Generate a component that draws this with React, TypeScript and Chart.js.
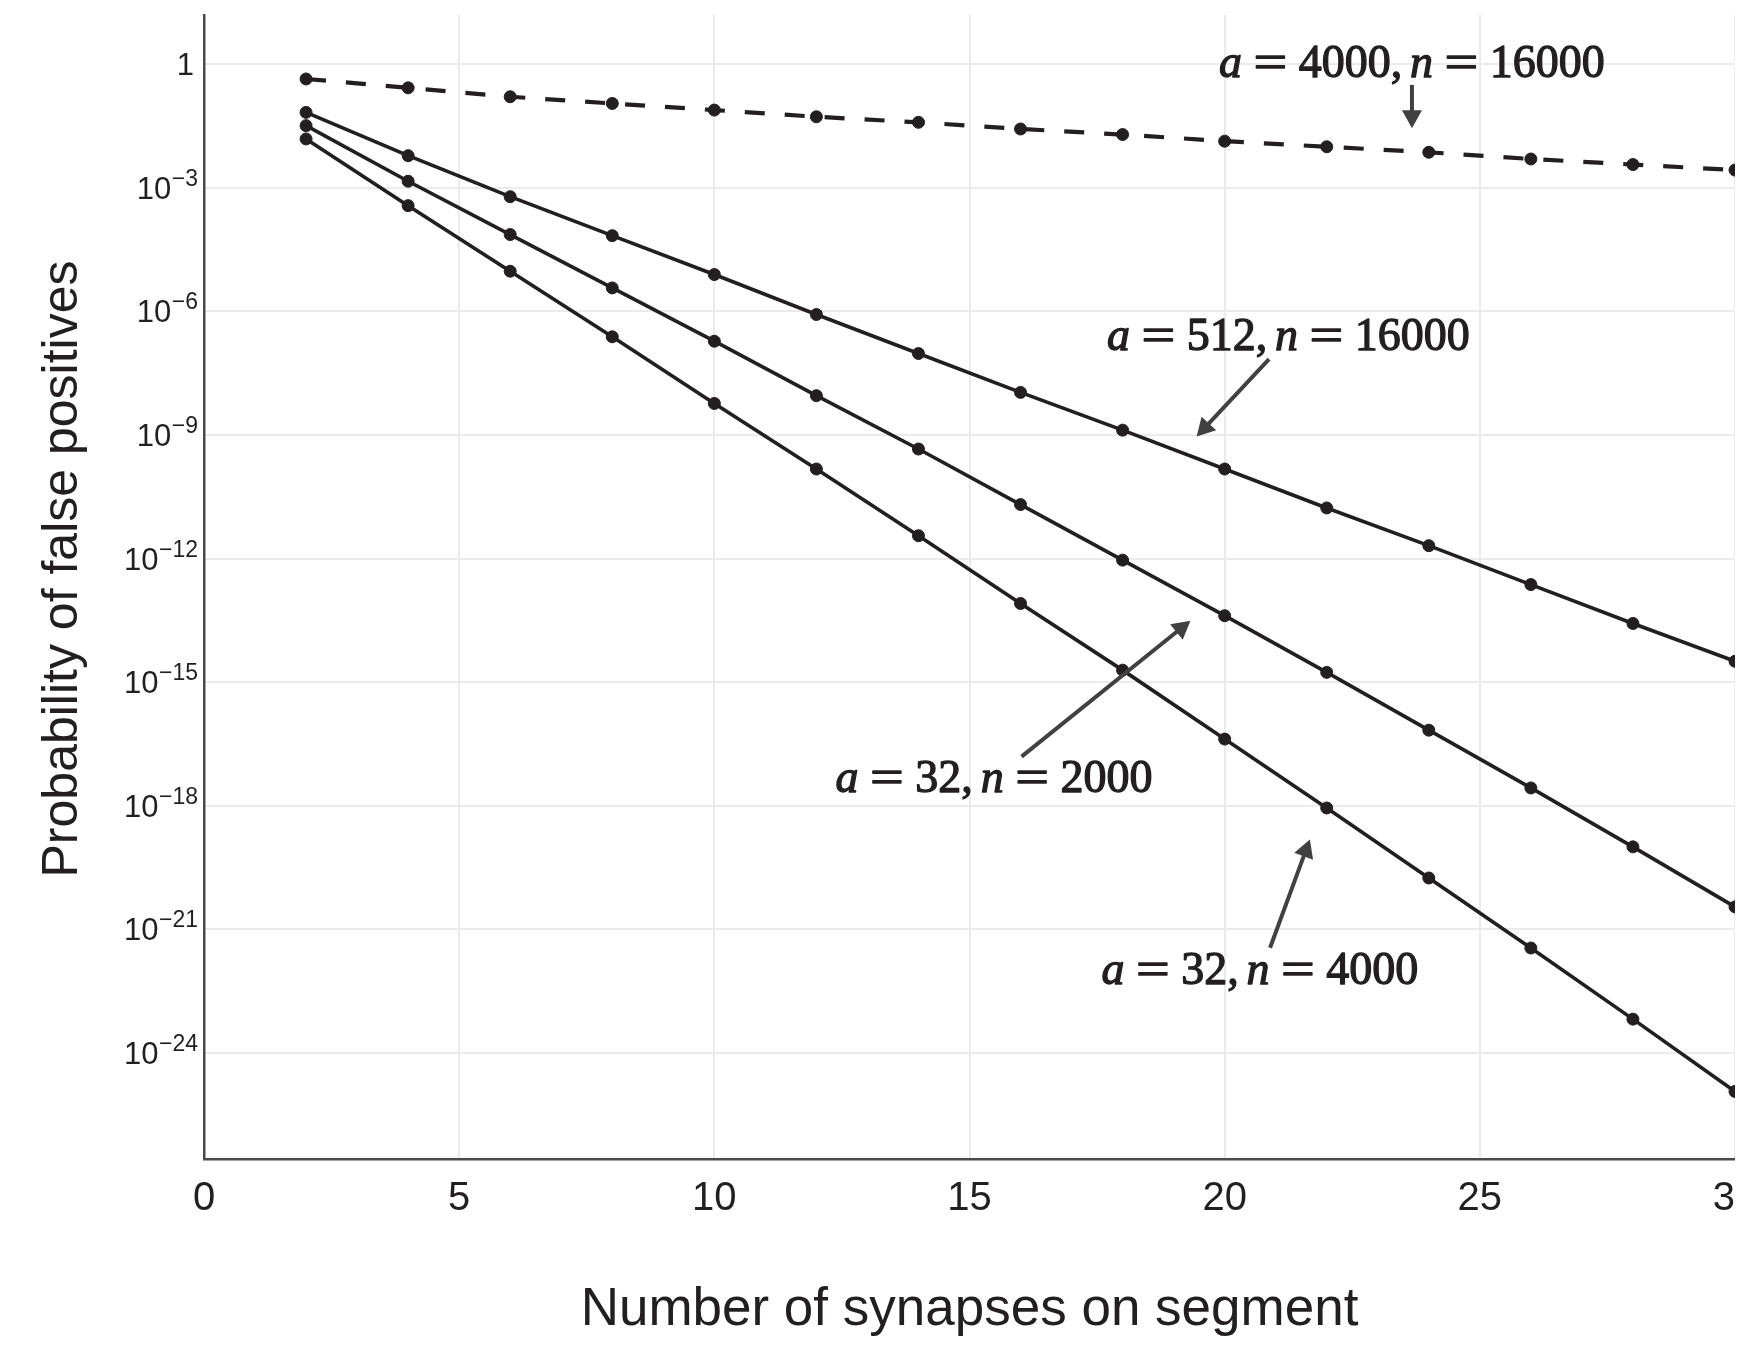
import React, { useEffect, useRef } from 'react';
import { Chart, registerables } from 'chart.js';

Chart.register(...registerables);

// ---------------- data ----------------
const xValues = [2, 4, 6, 8, 10, 12, 14, 16, 18, 20, 22, 24, 26, 28, 30];

// a = 4000, n = 16000 (dashed)
const seriesA4000N16000 = [
  4.4e-1, 2.68e-1, 1.63e-1, 1.12e-1, 7.73e-2, 5.32e-2, 3.9e-2, 2.69e-2,
  1.97e-2, 1.36e-2, 9.95e-3, 7.3e-3, 5.02e-3, 3.68e-3, 2.7e-3,
];
// a = 512, n = 16000
const seriesA512N16000 = [
  6.8e-2, 6.05e-3, 6.1e-4, 6.9e-5, 7.85e-6, 8.4e-7, 9.5e-8, 1.08e-8,
  1.31e-9, 1.49e-10, 1.69e-11, 2.05e-12, 2.33e-13, 2.65e-14, 3.2e-15,
];
// a = 32, n = 2000
const seriesA32N2000 = [
  3.24e-2, 1.45e-3, 7.35e-5, 3.72e-6, 1.89e-7, 9.0e-9, 4.56e-10, 2.04e-11,
  9.14e-13, 4.09e-14, 1.72e-15, 6.8e-17, 2.69e-18, 9.98e-20, 3.48e-21,
];
// a = 32, n = 4000
const seriesA32N4000 = [
  1.54e-2, 3.7e-4, 9.46e-6, 2.42e-7, 5.82e-9, 1.49e-10, 3.58e-12, 8.09e-14,
  1.95e-15, 4.13e-17, 8.77e-19, 1.75e-20, 3.49e-22, 6.55e-24, 1.15e-25,
];

const xTicks = [0, 5, 10, 15, 20, 25, 30];
const yTickExponents = [0, -3, -6, -9, -12, -15, -18, -21, -24];

const xTitle = 'Number of synapses on segment';
const yTitle = 'Probability of false positives';

const annotationA = ['4000', '512', '32', '32'];
const annotationN = ['16000', '16000', '2000', '4000'];
// anchors in data space: x value, log10(y)
const annotationTextAt = [
  [23.67, -0.3],
  [21.25, -6.94],
  [15.48, -17.66],
  [20.69, -22.32],
];
const annotationArrowFrom = [
  [23.67, -0.5],
  [20.87, -7.16],
  [16.02, -16.81],
  [20.89, -21.45],
];
const annotationArrowTo = [
  [23.67, -1.554],
  [19.45, -9.04],
  [19.33, -13.51],
  [21.67, -18.82],
];

// ---------------- styles ----------------
const INK = '#231f20';
const AXIS = '#4a4a4a';
const GRID = '#ebebeb';
const ARROW = '#414141';
const SANS = '"Liberation Sans", Arial, Helvetica, sans-serif';
const SERIF = '"Liberation Serif", "Times New Roman", serif';

const W = 1800;
const H = 1330;

function drawMathLabel(ctx: CanvasRenderingContext2D, a: string, n: string, cx: number, baseY: number) {
  const size = 46;
  const it = `italic ${size}px ${SERIF}`;
  const rm = `${size}px ${SERIF}`;
  const thick = size * 0.25;
  const thin = size * 0.17;
  const pieces: Array<{ t: string; f: string; gapAfter: number; sx?: number }> = [
    { t: 'a', f: it, gapAfter: thick },
    { t: '=', f: rm, gapAfter: thick, sx: 1.3 },
    { t: a, f: rm, gapAfter: 0 },
    { t: ',', f: rm, gapAfter: thin },
    { t: 'n', f: it, gapAfter: thick },
    { t: '=', f: rm, gapAfter: thick, sx: 1.3 },
    { t: n, f: rm, gapAfter: 0 },
  ];
  let total = 0;
  const widths: number[] = [];
  for (const p of pieces) {
    ctx.font = p.f;
    const w = ctx.measureText(p.t).width * (p.sx || 1);
    widths.push(w);
    total += w + p.gapAfter;
  }
  let x = cx - total / 2;
  ctx.fillStyle = INK;
  ctx.strokeStyle = INK;
  ctx.lineWidth = 1.3;
  ctx.lineJoin = 'round';
  ctx.textAlign = 'left';
  ctx.textBaseline = 'alphabetic';
  pieces.forEach((p, i) => {
    ctx.font = p.f;
    ctx.save();
    ctx.translate(x, baseY);
    if (p.sx) ctx.scale(p.sx, 1);
    ctx.fillText(p.t, 0, 0);
    ctx.strokeText(p.t, 0, 0);
    ctx.restore();
    x += widths[i] + p.gapAfter;
  });
}

function drawArrow(ctx: CanvasRenderingContext2D, x1: number, y1: number, x2: number, y2: number) {
  const headLen = 18;
  const headHalf = 10;
  const dx = x2 - x1;
  const dy = y2 - y1;
  const len = Math.hypot(dx, dy);
  const ux = dx / len;
  const uy = dy / len;
  const bx = x2 - ux * headLen;
  const by = y2 - uy * headLen;
  ctx.strokeStyle = ARROW;
  ctx.fillStyle = ARROW;
  ctx.lineWidth = 4;
  ctx.lineCap = 'butt';
  ctx.beginPath();
  ctx.moveTo(x1, y1);
  ctx.lineTo(bx + ux * 2, by + uy * 2);
  ctx.stroke();
  ctx.beginPath();
  ctx.moveTo(x2, y2);
  ctx.lineTo(bx - uy * headHalf, by + ux * headHalf);
  ctx.lineTo(bx + uy * headHalf, by - ux * headHalf);
  ctx.closePath();
  ctx.fill();
}

const customPlugin = {
  id: 'customDecor',
  afterDraw(chart: any) {
    const ctx: CanvasRenderingContext2D = chart.ctx;
    const xs = chart.scales.x;
    const ys = chart.scales.y;
    const area = chart.chartArea;
    ctx.save();

    // y tick labels with superscripts
    ctx.fillStyle = INK;
    ctx.textBaseline = 'alphabetic';
    ctx.textAlign = 'left';
    const right = 190;
    for (const e of yTickExponents) {
      const py = ys.getPixelForValue(Math.pow(10, e));
      if (e === 0) {
        ctx.font = `31px ${SANS}`;
        const w = ctx.measureText('1').width;
        ctx.fillText('1', right - 4 - w, py + 11);
        continue;
      }
      const expStr = '\u2212' + Math.abs(e);
      ctx.font = `23px ${SANS}`;
      const ew = ctx.measureText(expStr).width;
      ctx.fillText(expStr, right - ew, py - 2);
      ctx.font = `31px ${SANS}`;
      const bw = ctx.measureText('10').width;
      ctx.fillText('10', right - ew - bw - 0.5, py + 11);
    }

    // x tick labels
    ctx.font = `40px ${SANS}`;
    ctx.textAlign = 'center';
    for (const v of xTicks) {
      const px = xs.getPixelForValue(v);
      ctx.fillText(String(v), px, 1202);
    }

    // axis titles
    ctx.font = `53px ${SANS}`;
    ctx.textAlign = 'center';
    ctx.fillText(xTitle, (area.left + area.right) / 2, 1317);

    ctx.save();
    ctx.translate(69, 561);
    ctx.rotate(-Math.PI / 2);
    ctx.font = `50px ${SANS}`;
    ctx.textAlign = 'center';
    ctx.fillText(yTitle, 0, 0);
    ctx.restore();

    // annotations
    for (let i = 0; i < annotationA.length; i++) {
      const [fx, fy] = annotationArrowFrom[i];
      const [tx, ty] = annotationArrowTo[i];
      drawArrow(
        ctx,
        xs.getPixelForValue(fx),
        ys.getPixelForValue(Math.pow(10, fy)),
        xs.getPixelForValue(tx),
        ys.getPixelForValue(Math.pow(10, ty))
      );
    }
    for (let i = 0; i < annotationA.length; i++) {
      const [lx, ly] = annotationTextAt[i];
      drawMathLabel(ctx, annotationA[i], annotationN[i], xs.getPixelForValue(lx), ys.getPixelForValue(Math.pow(10, ly)));
    }

    ctx.restore();
  },
};

function toPoints(values: number[]) {
  return values.map((y, i) => ({ x: xValues[i], y }));
}

export default function App() {
  const canvasRef = useRef<HTMLCanvasElement | null>(null);

  useEffect(() => {
    const canvas = canvasRef.current;
    if (!canvas) return;
    const common = {
      borderColor: INK,
      backgroundColor: INK,
      pointBackgroundColor: INK,
      pointBorderColor: INK,
      pointRadius: 6,
      pointBorderWidth: 1,
      fill: false,
      tension: 0,
      clip: false as any,
    };
    const chart = new Chart(canvas, {
      type: 'line',
      data: {
        datasets: [
          { ...common, label: 'a = 4000, n = 16000', data: toPoints(seriesA4000N16000), borderWidth: 4.2, borderDash: [20, 20] },
          { ...common, label: 'a = 512, n = 16000', data: toPoints(seriesA512N16000), borderWidth: 3.6 },
          { ...common, label: 'a = 32, n = 2000', data: toPoints(seriesA32N2000), borderWidth: 3.6 },
          { ...common, label: 'a = 32, n = 4000', data: toPoints(seriesA32N4000), borderWidth: 3.6 },
        ],
      },
      options: {
        responsive: false,
        maintainAspectRatio: false,
        animation: false,
        devicePixelRatio: 1,
        layout: { padding: { left: 0, top: 7, right: W - 1727, bottom: 0 } },
        plugins: {
          legend: { display: false },
          tooltip: { enabled: false },
          title: { display: false },
        },
        scales: {
          x: {
            type: 'linear',
            min: 0,
            max: 30,
            afterBuildTicks: (s: any) => {
              s.ticks = xTicks.map((v) => ({ value: v }));
            },
            afterFit: (s: any) => {
              s.height = H - 1151;
            },
            ticks: { display: false },
            grid: { color: GRID, lineWidth: 2, drawTicks: false },
            border: { display: true, color: AXIS, width: 2.5 },
          },
          y: {
            type: 'logarithmic',
            min: Math.pow(10, -26.58),
            max: Math.pow(10, 1.197),
            afterBuildTicks: (s: any) => {
              s.ticks = yTickExponents.map((e) => ({ value: Math.pow(10, e) }));
            },
            afterFit: (s: any) => {
              s.width = 196;
            },
            ticks: { display: false },
            grid: { color: GRID, lineWidth: 2, drawTicks: false },
            border: { display: true, color: AXIS, width: 2.5 },
          },
        },
      },
      plugins: [customPlugin],
    } as any);
    return () => chart.destroy();
  }, []);

  return (
    <div style={{ height: H, overflow: 'hidden', background: '#fff' }}>
      <canvas ref={canvasRef} width={W} height={H} style={{ display: 'block', width: W, height: H }} />
    </div>
  );
}
